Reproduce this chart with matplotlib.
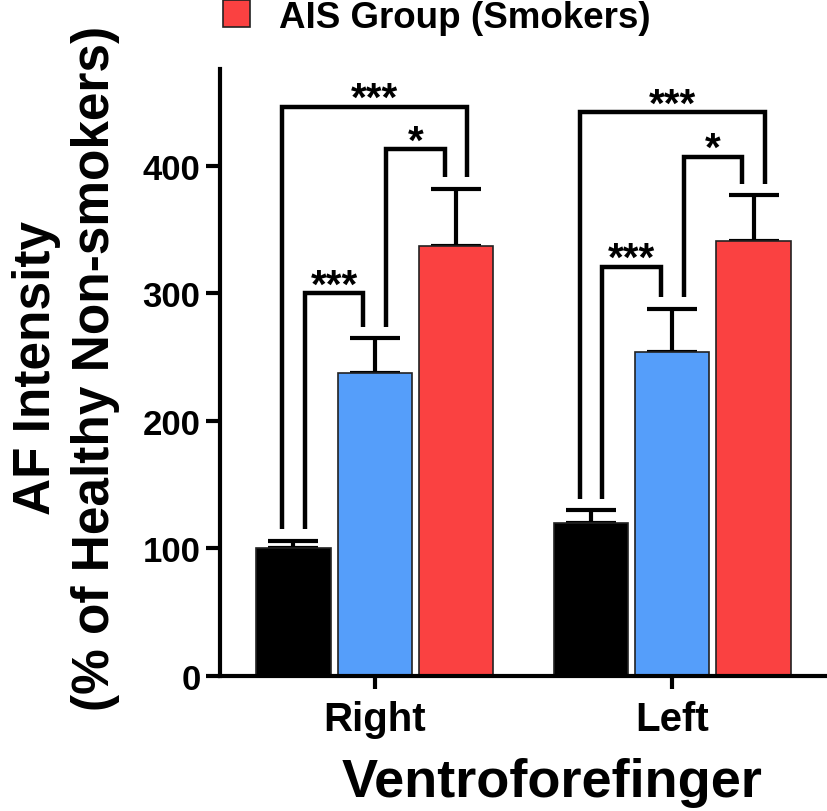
import matplotlib
matplotlib.use("Agg")
import matplotlib.pyplot as plt
from matplotlib.patches import Patch
import numpy as np

plt.rcParams['font.family'] = ['Liberation Sans', 'DejaVu Sans']
plt.rcParams['font.weight'] = 'bold'

# data
groups = ['Right', 'Left']
healthy = [100, 120]
healthy_err = [6, 10]
ais_nonsmk = [238, 254]
ais_nonsmk_err = [27, 34]
ais_smk = [337, 341]
ais_smk_err = [45, 36]

# significance brackets: (group, bar a, bar b, bracket top, label)
sig_brackets = [
    (0, 0, 1, 300, '***'),
    (0, 1, 2, 413, '*'),
    (0, 0, 2, 446, '***'),
    (1, 0, 1, 321, '***'),
    (1, 1, 2, 407, '*'),
    (1, 0, 2, 442, '***'),
]

BLACK = '#000000'
BLUE = '#559EFA'
RED = '#FA4141'

fig = plt.figure(figsize=(8.27, 8.12), dpi=100)
ax = fig.add_axes([220 / 827, 135 / 812, 607 / 827, 607 / 812])

x = np.arange(len(groups))
off = 0.273
w = 0.25
series = [(healthy, healthy_err, BLACK), (ais_nonsmk, ais_nonsmk_err, BLUE), (ais_smk, ais_smk_err, RED)]
tops = []
for k, (vals, errs, col) in enumerate(series):
    pos = x + (k - 1) * off
    ax.bar(pos, vals, width=w, color=col, edgecolor='#222222', linewidth=1.2, zorder=2)
    ax.errorbar(pos, vals, yerr=[np.zeros(len(vals)), errs], fmt='none', ecolor='black',
                elinewidth=3, capsize=18, capthick=3, zorder=1)
    tops.append([v + e for v, e in zip(vals, errs)])

# brackets
d = 0.038
gap = 9
for g, a, b, top, lab in sig_brackets:
    ca = x[g] + (a - 1) * off
    cb = x[g] + (b - 1) * off
    outer = (b - a) == 2
    xa = ca - d if outer else ca + d
    xb = cb + d if outer else cb - d
    ya = tops[a][g] + gap
    yb = tops[b][g] + gap
    ax.plot([xa, xa, xb, xb], [ya, top, top, yb], color='black', lw=3.2,
            solid_joinstyle='miter', solid_capstyle='butt', zorder=3)
    ax.annotate(lab, ((xa + xb) / 2, top), xytext=(0, -3), textcoords='offset pixels',
                ha='center', va='baseline', fontsize=29, fontweight='bold')

ax.set_xlim(-0.52, 1.52)
ax.set_ylim(0, 476)
ax.set_yticks([0, 100, 200, 300, 400])
ax.set_xticks(x)
ax.set_xticklabels(groups)
ax.tick_params(axis='y', labelsize=25, width=3, length=10, pad=4)
ax.tick_params(axis='x', labelsize=29, width=3, length=9, pad=8)
for lbl in ax.get_xticklabels() + ax.get_yticklabels():
    lbl.set_fontweight('bold')
for s in ['top', 'right']:
    ax.spines[s].set_visible(False)
for s in ['left', 'bottom']:
    ax.spines[s].set_linewidth(3)

fig.text(66 / 827, 1 - 368 / 812, 'AF Intensity\n(% of Healthy Non-smokers)', rotation=90,
         ha='center', va='center', multialignment='center', fontsize=37, fontweight='bold',
         linespacing=1.25)
fig.text(552 / 827, 1 - 783 / 812, 'Ventroforefinger', ha='center', va='center',
         fontsize=39, fontweight='bold')

fig.legend(handles=[Patch(facecolor=RED, edgecolor='#222222', linewidth=1.2)],
           labels=['AIS Group (Smokers)'], loc='center left',
           bbox_to_anchor=(223 / 827, 1 - 18 / 812), frameon=False, fontsize=26.5,
           borderpad=0, borderaxespad=0, handlelength=0.73, handleheight=0.73,
           handletextpad=0.8)

fig.savefig('out.png', dpi=100)
